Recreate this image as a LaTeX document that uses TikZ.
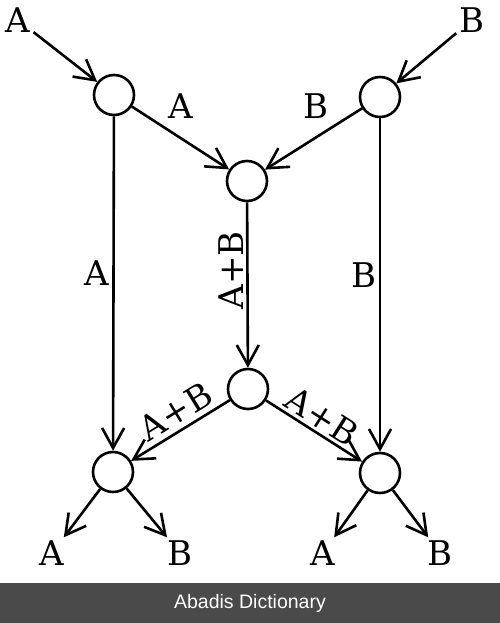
\documentclass[tikz,border=0pt]{standalone}
\usepackage{fontspec}
\setmainfont{DejaVu Serif}
\newfontfamily\footfont{Liberation Sans}
\usepackage{tikz}
\usetikzlibrary{arrows.meta}
\definecolor{footgray}{HTML}{4A4A4A}

\begin{document}
\begin{tikzpicture}[
  x=1pt,y=-1pt,
  >={Straight Barb[length=20pt,width=22pt]},
  line width=2.6pt,
  every node/.style={font=\fontsize{34}{38}\selectfont,inner sep=2pt},
  vtx/.style={circle,draw,line width=2.6pt,minimum size=40pt,inner sep=0pt}
]
  \useasboundingbox (0,0) rectangle (500,623);

  % vertices
  \node[vtx] (n1) at (114,95) {};
  \node[vtx] (n2) at (380,97) {};
  \node[vtx] (m1) at (247,181) {};
  \node[vtx] (m2) at (248,389) {};
  \node[vtx] (b1) at (113,472) {};
  \node[vtx] (b2) at (380,473) {};

  % inputs and outputs
  \node (inA) at (18,20) {A};
  \node (inB) at (472,20) {B};
  \node (outA1) at (52,553) {A};
  \node (outB1) at (180,553) {B};
  \node (outA2) at (323,553) {A};
  \node (outB2) at (440,553) {B};

  \draw[->] (inA) -- (n1);
  \draw[->] (inB) -- (n2);
  \draw[->] (n1) -- (m1) node[pos=.5,above=16pt] {A};
  \draw[->] (n2) -- (m1) node[pos=.47,above=15pt] {B};
  \draw[->] (n1) -- (b1) node[pos=.47,left=1pt] {A};
  \draw[->] (n2) -- (b2) node[pos=.47,left=0pt] {B};
  \draw[->] (m1) -- (m2)
    node[pos=.41,rotate=90,anchor=south,outer sep=2pt] {A+B};
  \draw[->] (m2) -- (b1) node[pos=.45,sloped,above=3pt] {A+B};
  \draw[->] (m2) -- (b2) node[pos=.49,sloped,above=1pt] {A+B};
  \draw[->] (b1) -- (outA1);
  \draw[->] (b1) -- (outB1);
  \draw[->] (b2) -- (outA2);
  \draw[->] (b2) -- (outB2);

  \fill[footgray] (0,583) rectangle (500,623);
  \node[text=white,font=\footfont\fontsize{19.5}{22}\selectfont] (foot) at (250,603) {Abadis Dictionary};
\end{tikzpicture}
\end{document}
